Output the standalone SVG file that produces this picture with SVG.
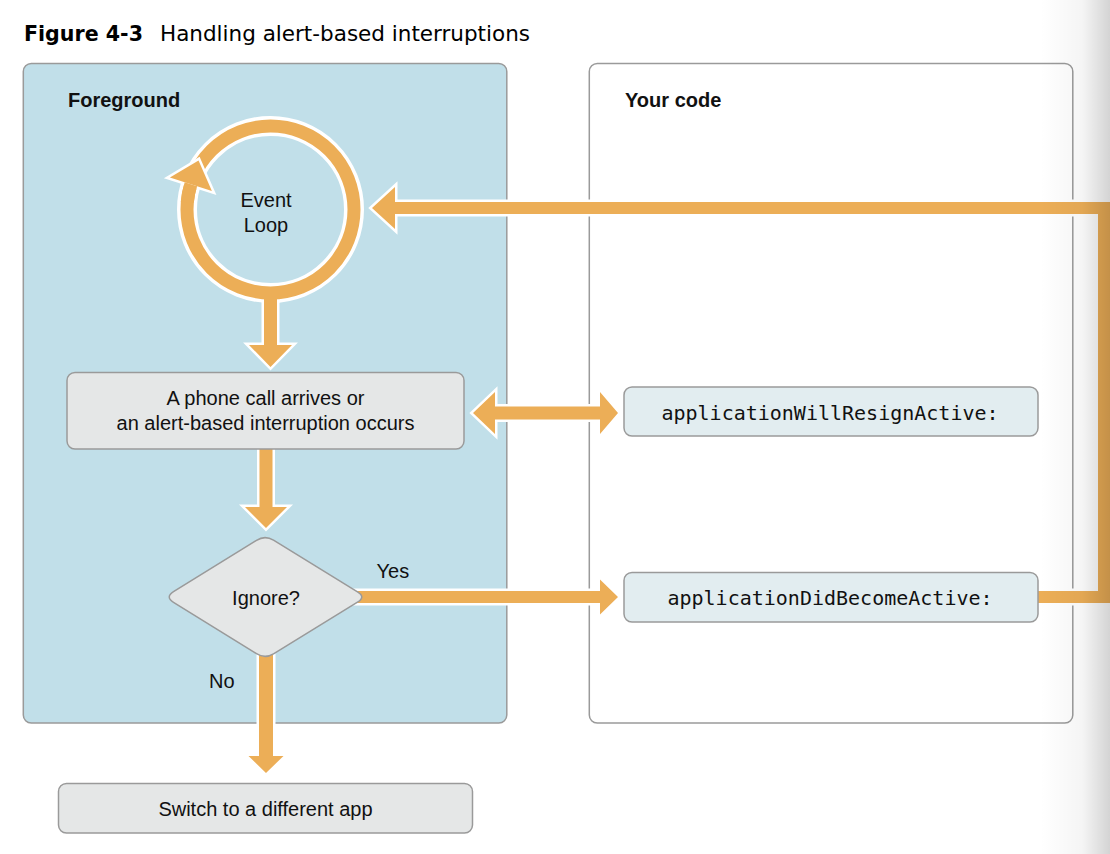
<svg xmlns="http://www.w3.org/2000/svg" width="1110" height="854" viewBox="0 0 1110 854">
<defs>
<style>
.sans{font-family:"Liberation Sans",Arial,sans-serif;font-size:20px;fill:#111}
.bold{font-weight:bold}
.mono{font-family:"DejaVu Sans Mono","Liberation Mono",monospace;font-size:20px;fill:#111}
.title{font-family:"DejaVu Sans","Noto Sans",sans-serif;font-size:20.5px;fill:#000}
.panel{stroke:#9a9a9a;stroke-width:1.5}
.box{fill:#e5e7e7;stroke:#9a9a9a;stroke-width:1.5}
.mbox{fill:#e2edf0;stroke:#9a9a9a;stroke-width:1.5}
.halo{fill:none;stroke:#fff;stroke-width:5;stroke-linejoin:miter}
.arrow{fill:#ecae57;stroke:none}
</style>
<linearGradient id="shade" gradientUnits="userSpaceOnUse" x1="1040" y1="0" x2="1110" y2="0">
<stop offset="0" stop-color="#000" stop-opacity="0"/>
<stop offset="0.6" stop-color="#000" stop-opacity="0.04"/>
<stop offset="1" stop-color="#000" stop-opacity="0.17"/>
</linearGradient>
</defs>
<rect width="1110" height="854" fill="#fff"/>

<g id="title">
<text class="title bold" x="24" y="41" textLength="119" lengthAdjust="spacingAndGlyphs">Figure 4-3</text>
<text class="title" x="160" y="41" textLength="370" lengthAdjust="spacingAndGlyphs">Handling alert-based interruptions</text>
</g>

<g id="panel-foreground">
<rect class="panel" x="23.3" y="63.5" width="483.5" height="659.5" rx="8" fill="#c1dfe9"/>
<text class="sans bold" x="68" y="106.5">Foreground</text>
</g>
<g id="panel-yourcode">
<rect class="panel" x="589.3" y="63.5" width="483.5" height="659.5" rx="8" fill="#fff"/>
<text class="sans bold" x="625" y="106.5">Your code</text>
</g>

<g id="event-loop">
<circle cx="270.5" cy="209.5" r="83.5" fill="none" stroke="#fff" stroke-width="20"/>
<circle cx="270.5" cy="209.5" r="83.5" fill="none" stroke="#ecae57" stroke-width="13"/>
<polygon points="198.5,160.4 211.9,190.9 169.9,177.6" fill="#ecae57" stroke="#fff" stroke-width="5" paint-order="stroke" stroke-linejoin="miter"/>
<path d="M187.3,202.2 A83.5,83.5 0 0 1 190.9,184.25" fill="none" stroke="#ecae57" stroke-width="13"/>
<text class="sans" x="266" y="206.5" text-anchor="middle">Event</text>
<text class="sans" x="266" y="231.5" text-anchor="middle">Loop</text>
</g>

<g id="connectors">
<g id="connector-halos">
<path class="halo" d="M264,300 L264,345 L249,345 L270.5,367 L292,345 L277,345 L277,300"/>
<polygon class="halo" points="473,413 495,392 495,406.5 600,406.5 600,392 618,413 600,434 600,419.5 495,419.5 495,434"/>
<polygon class="halo" points="259.5,440 272.5,440 272.5,507 287,507 266,528 245,507 259.5,507"/>
<polygon class="halo" points="355,591 600,591 600,579.5 618,597 600,614.5 600,603 355,603"/>
<polygon class="halo" points="259,650 273,650 273,756 283.5,756 266,773 248.5,756 259,756"/>
<polygon class="halo" points="1030,591 1098,591 1098,214 395,214 395,229 372,208 395,187 395,202 1110,202 1110,603 1030,603"/>
</g>
<g id="connector-fills">
<polygon id="loop-to-box" class="arrow" points="264,292 277,292 277,345 292,345 270.5,367 249,345 264,345"/>
<polygon id="box-to-resign" class="arrow" points="473,413 495,392 495,406.5 600,406.5 600,392 618,413 600,434 600,419.5 495,419.5 495,434"/>
<polygon id="box-to-ignore" class="arrow" points="259.5,440 272.5,440 272.5,507 287,507 266,528 245,507 259.5,507"/>
<polygon id="ignore-yes" class="arrow" points="355,591 600,591 600,579.5 618,597 600,614.5 600,603 355,603"/>
<polygon id="ignore-no" class="arrow" points="259,650 273,650 273,756 283.5,756 266,773 248.5,756 259,756"/>
<polygon id="active-to-loop" class="arrow" points="1030,591 1098,591 1098,214 395,214 395,229 372,208 395,187 395,202 1110,202 1110,603 1030,603"/>
</g>
<text class="sans" x="376.5" y="577.5">Yes</text>
<text class="sans" x="209" y="688">No</text>
</g>

<g id="phone-call">
<rect class="box" x="67" y="372.5" width="397" height="76.5" rx="8"/>
<text class="sans" x="265.5" y="405" text-anchor="middle">A phone call arrives or</text>
<text class="sans" x="265.5" y="430" text-anchor="middle">an alert-based interruption occurs</text>
</g>

<g id="ignore">
<path class="box" d="M173.5,591.7 L256.5,540.3 Q265,535 273.5,540.2 L357.5,591.8 Q366,597 357.5,602.2 L273.5,653.8 Q265,659 256.5,653.7 L173.5,602.3 Q165,597 173.5,591.7 Z"/>
<text class="sans" x="266" y="605" text-anchor="middle">Ignore?</text>
</g>

<g id="switch-app">
<rect class="box" x="58.5" y="783.5" width="414" height="49.5" rx="8"/>
<text class="sans" x="265.5" y="816" text-anchor="middle">Switch to a different app</text>
</g>

<g id="will-resign">
<rect class="mbox" x="624" y="387" width="414" height="49" rx="8"/>
<text class="mono" x="830" y="419.5" text-anchor="middle">applicationWillResignActive:</text>
</g>

<g id="did-become">
<rect class="mbox" x="624" y="572.5" width="414" height="49.5" rx="8"/>
<text class="mono" x="830" y="605" text-anchor="middle">applicationDidBecomeActive:</text>
</g>

<rect x="1040" y="0" width="70" height="854" fill="url(#shade)"/>
</svg>
